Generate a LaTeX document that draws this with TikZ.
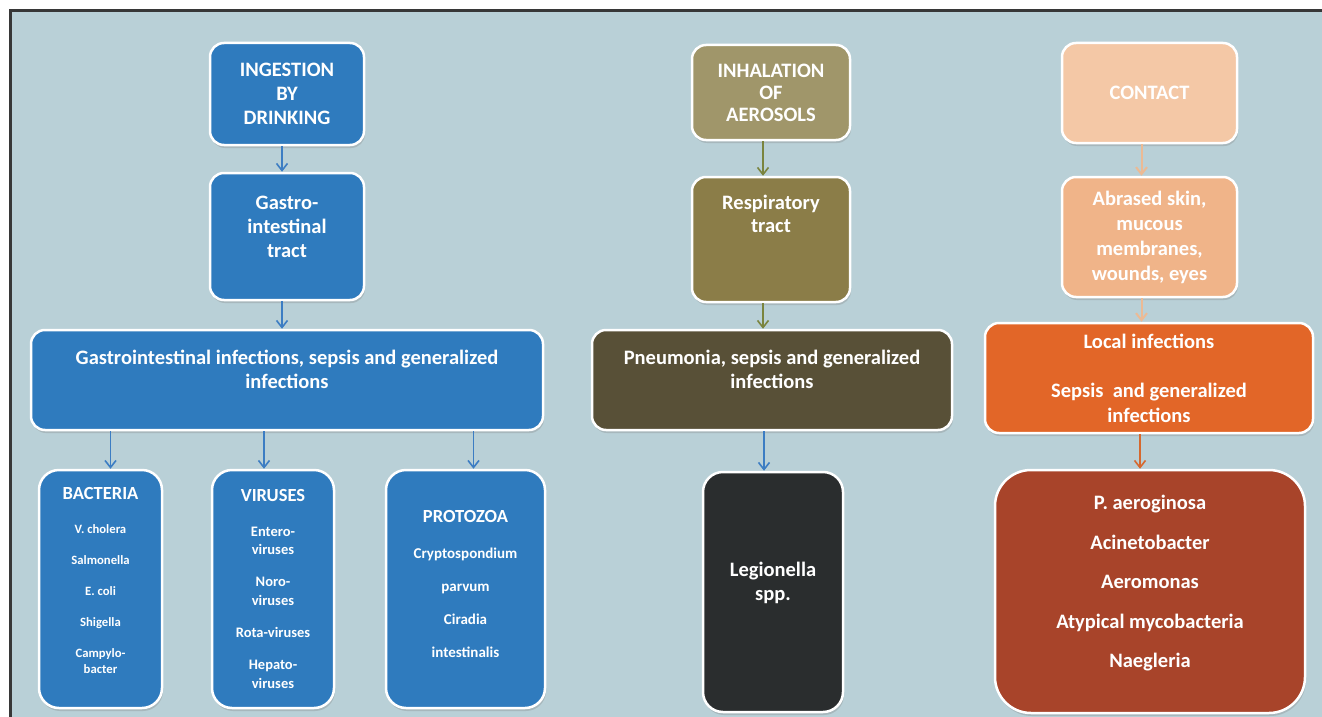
\documentclass[tikz,border=0pt]{standalone}
\usepackage{fontspec}
\setmainfont{Carlito}
\usetikzlibrary{arrows.meta,shadows}
\definecolor{bgblue}{RGB}{185,208,215}
\definecolor{framegray}{RGB}{55,55,55}
\definecolor{ingblue}{RGB}{47,123,190}
\definecolor{inhkhaki}{RGB}{160,150,106}
\definecolor{respolive}{RGB}{139,125,72}
\definecolor{pneubrown}{RGB}{88,80,55}
\definecolor{legdark}{RGB}{42,45,46}
\definecolor{conpeach}{RGB}{244,200,166}
\definecolor{abrpeach}{RGB}{240,180,137}
\definecolor{locorange}{RGB}{226,102,40}
\definecolor{botrust}{RGB}{168,68,42}
\definecolor{arrblue}{RGB}{60,125,195}
\definecolor{arrolive}{RGB}{122,132,62}
\definecolor{arrpeach}{RGB}{236,186,148}
\definecolor{arrorange}{RGB}{214,104,46}
\begin{document}
\begin{tikzpicture}[x=1pt,y=-1pt,
  box/.style={draw=white, line width=2.5pt, rounded corners=14pt, text=white, align=center,
    font=\bfseries\fontsize{20.5}{24}\selectfont,
    drop shadow={opacity=0.3, shadow xshift=1pt, shadow yshift=-3pt}},
  arr/.style={line width=1.6pt, -{Straight Barb[length=7pt,width=11pt]}}]
\useasboundingbox (0,0) rectangle (1322,717);
\fill[white] (-10,-10) rectangle (1340,740);
\fill[bgblue] (10,11) rectangle (1340,740);
\draw[framegray, line width=3pt] (10,740) -- (10,11) -- (1340,11);
\node[box, fill=ingblue, minimum width=154, minimum height=102] (ing) at (287,94){INGESTION\\BY\\DRINKING};
\node[box, fill=ingblue, minimum width=154, minimum height=127, text depth=20pt] (git) at (287,236.5){Gastro-\\intestinal\\tract};
\node[box, fill=ingblue, minimum width=512, minimum height=100, text depth=22pt] (gi) at (287,380){Gastrointestinal infections, sepsis and generalized\\infections};
\node[box, fill=ingblue, rounded corners=20pt, minimum width=123, minimum height=238, text depth=17pt, font=\bfseries\fontsize{12.7}{31}\selectfont] (bact) at (100.5,589){{\fontsize{18.5}{31}\selectfont BACTERIA}\\[3pt]V. cholera\\Salmonella\\E. coli\\Shigella\\Campylo-\\[-15pt]bacter};
\node[box, fill=ingblue, rounded corners=20pt, minimum width=122, minimum height=238, font=\bfseries\fontsize{14.5}{32}\selectfont] (vir) at (273,589){{\fontsize{18.5}{32}\selectfont VIRUSES}\\[3pt]Entero-\\[-14pt]viruses\\Noro-\\[-13pt]viruses\\Rota-viruses\\Hepato-\\[-13pt]viruses};
\node[box, fill=ingblue, rounded corners=20pt, minimum width=159, minimum height=238, text depth=11pt, font=\bfseries\fontsize{15}{33}\selectfont] (proto) at (465.5,589){{\fontsize{18.5}{33}\selectfont PROTOZOA}\\[3pt]Cryptospondium\\parvum\\Ciradia\\intestinalis};
\draw[arr, draw=arrblue]([xshift=-5pt]ing.south) -- ([xshift=-5pt]git.north);
\draw[arr, draw=arrblue]([xshift=-5pt]git.south) -- ([xshift=-5pt]git.south |- gi.north);
\draw[arr, draw=arrblue]([xshift=10pt]gi.south -| bact.north) -- ([xshift=10pt]bact.north);
\draw[arr, draw=arrblue]([xshift=-9pt]gi.south -| vir.north) -- ([xshift=-9pt]vir.north);
\draw[arr, draw=arrblue]([xshift=8pt]gi.south -| proto.north) -- ([xshift=8pt]proto.north);
\node[box, fill=inhkhaki, minimum width=158, minimum height=95, font=\bfseries\fontsize{20.5}{22}\selectfont] (inh) at (771,92.5){INHALATION\\OF\\AEROSOLS};
\node[box, fill=respolive, minimum width=158, minimum height=125, text depth=52pt, font=\bfseries\fontsize{20.5}{23}\selectfont] (resp) at (771,239.5){Respiratory\\tract};
\node[box, fill=pneubrown, minimum width=360, minimum height=100, text depth=22pt] (pneu) at (772,380){Pneumonia, sepsis and generalized\\infections};
\node[box, fill=legdark, rounded corners=20pt, minimum width=140, minimum height=240, text depth=22pt] (leg) at (773,592){Legionella\\spp.};
\draw[arr, draw=arrolive]([xshift=-8pt]inh.south) -- ([xshift=-8pt]resp.north);
\draw[arr, draw=arrolive]([xshift=-8pt]resp.south) -- ([xshift=-8pt]resp.south |- pneu.north);
\draw[arr, draw=arrblue]([xshift=-8pt]pneu.south) -- ([xshift=-8pt]pneu.south |- leg.north);
\node[box, fill=conpeach, minimum width=175, minimum height=100] (con) at (1149.5,93){CONTACT};
\node[box, fill=abrpeach, minimum width=175, minimum height=120, font=\bfseries\fontsize{20.5}{25}\selectfont] (abr) at (1149.5,237){Abrased skin,\\mucous\\membranes,\\wounds, eyes};
\node[box, fill=locorange, minimum width=328, minimum height=110, font=\bfseries\fontsize{20.5}{25}\selectfont] (loc) at (1149,378){Local infections\\[24pt]Sepsis~ and generalized\\infections};
\node[box, fill=botrust, rounded corners=36pt, minimum width=310, minimum height=243, text depth=20pt, font=\bfseries\fontsize{20.5}{39.5}\selectfont] (bot) at (1150,591.5){P. aeroginosa\\Acinetobacter\\Aeromonas\\Atypical mycobacteria\\Naegleria};
\draw[arr, draw=arrpeach, line width=2pt]([xshift=-8pt]con.south) -- ([xshift=-8pt]abr.north);
\draw[arr, draw=arrpeach, line width=2pt]([xshift=-8pt]abr.south) -- ([xshift=-8pt]abr.south |- loc.north);
\draw[arr, draw=arrorange]([xshift=-9pt]loc.south) -- ([xshift=-9pt]loc.south |- bot.north);
\end{tikzpicture}
\end{document}
